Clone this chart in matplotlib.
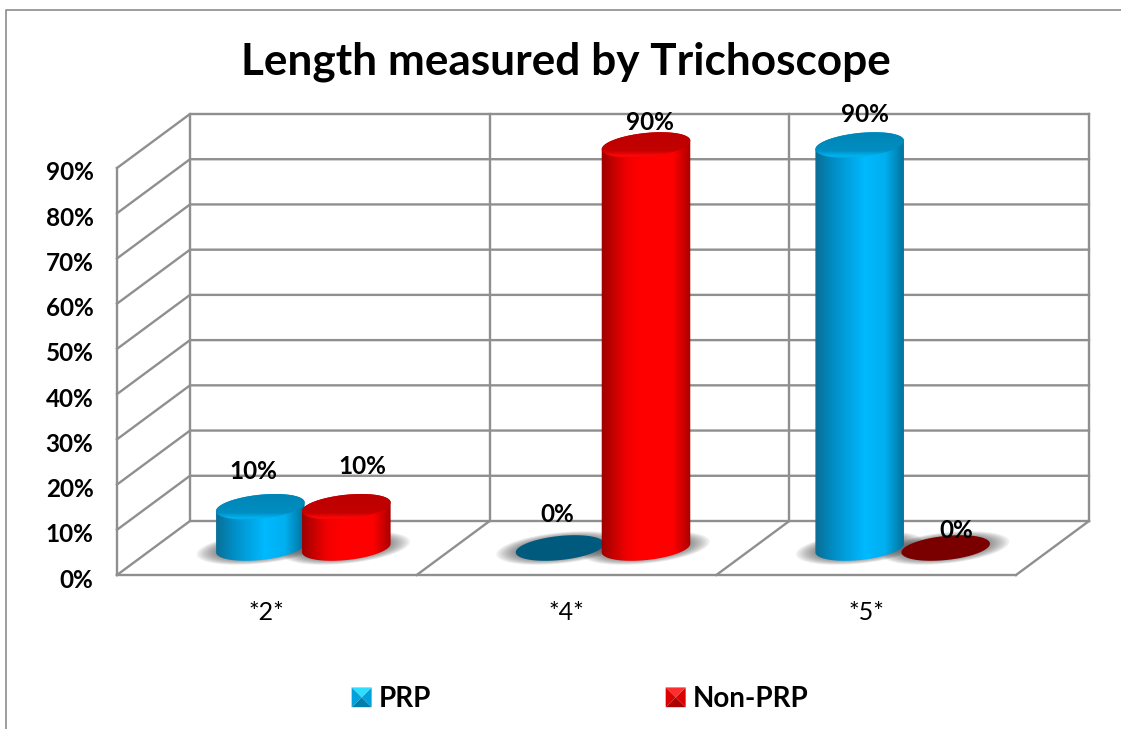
import numpy as np
import matplotlib
matplotlib.use("Agg")
import matplotlib.pyplot as plt
from matplotlib.colors import LinearSegmentedColormap
from matplotlib.legend_handler import HandlerBase
from matplotlib.lines import Line2D
from matplotlib.patches import Patch, Polygon
from matplotlib.transforms import Affine2D

# ---- data ----
categories = ["*2*", "*4*", "*5*"]
series_names = ["PRP", "Non-PRP"]
prp_values = [10, 0, 90]
non_prp_values = [10, 90, 0]
y_ticks = [0, 10, 20, 30, 40, 50, 60, 70, 80, 90]

# ---- style ----
W, H = 1121, 729
FONT = "Lato"
GRID = "#8f8f8f"
L, R, B, T = 117, 1016, 575, 168          # front plane in pixels
PX = 3 / (R - L)
PY = 90 / (B - T)
DX, DY = 73 * PX, 54 * PY                 # oblique depth of the chart floor
BAR_OFF = 43 * PX
A, BB, TILT = 44.5, 12.0, np.deg2rad(6)   # cylinder ellipse in pixels
TOP_SHIFT = -4 * PY
# pixel offsets of each data label from the bar's top centre: (series, category)
LABEL_OFFSETS = {
    (0, 0): (-7, 35), (1, 0): (16, 40),
    (0, 1): (-3, 34), (1, 1): (4, 23),
    (0, 2): (5, 31), (1, 2): (11, 17),
}
STYLE = [
    dict(side=[(0, "#0b6d94"), (0.22, "#0090c8"), (0.55, "#00b9ff"), (0.78, "#00afef"), (1, "#006f99")],
         top=[(0, "#0085b5"), (0.72, "#008ec2"), (0.92, "#00b4f0"), (1, "#00a8e0")], flat="#005a7d"),
    dict(side=[(0, "#9c0000"), (0.28, "#f00000"), (0.45, "#ff0000"), (0.8, "#ff0000"), (1, "#a80000")],
         top=[(0, "#bb0000"), (0.72, "#c40000"), (0.92, "#ff0808"), (1, "#f00000")], flat="#7a0000"),
]

fig = plt.figure(figsize=(W / 100, H / 100), dpi=100, facecolor="white")
ax = fig.add_axes([L / W, 1 - B / H, (R - L) / W, (B - T) / H])
ax.set_xlim(0, 3)
ax.set_ylim(0, 90)
ax.set_facecolor("none")
for s in ("top", "right"):
    ax.spines[s].set_visible(False)
for s in ("left", "bottom"):
    ax.spines[s].set_color(GRID)
    ax.spines[s].set_linewidth(1.7)
ax.set_yticks(y_ticks, [f"{v}%" for v in y_ticks], fontfamily=FONT, fontweight="bold", fontsize=17.5)
ax.set_xticks([0.5, 1.5, 2.5], categories, fontfamily=FONT, fontsize=18)
ax.tick_params(axis="y", length=0, pad=17)
ax.tick_params(axis="x", length=0, pad=19)
for lab in ax.get_yticklabels():
    lab.set_transform(lab.get_transform() + Affine2D().translate(0, -3))

# outer chart frame
fig.add_artist(Line2D([6 / W, 6 / W, 1], [0, 1 - 10 / H, 1 - 10 / H], color="#8c8c8c", lw=1.2))

# walls and floor
kw = dict(color=GRID, lw=1.7, zorder=1, clip_on=False, solid_capstyle="projecting")
for v in y_ticks:
    ax.plot([0, DX, 3 + DX], [v, v + DY, v + DY], **kw)
for i in range(4):
    ax.plot([i + DX, i + DX], [DY, 90 + DY], **kw)
for i in range(1, 4):
    ax.plot([i, i + DX], [0, DY], **kw)


def ellipse(cx, cy, a=A, b=BB, t=None):
    t = np.linspace(0, 2 * np.pi, 121) if t is None else t
    ex = a * np.cos(t) * np.cos(TILT) - b * np.sin(t) * np.sin(TILT)
    ey = a * np.cos(t) * np.sin(TILT) + b * np.sin(t) * np.cos(TILT)
    return np.column_stack([cx + ex * PX, cy + ey * PY])


def gradient(poly, stops, extent, vertical, z):
    cmap = LinearSegmentedColormap.from_list("g", stops)
    ramp = np.linspace(0, 1, 256)
    arr = ramp[:, None] if vertical else ramp[None, :]
    im = ax.imshow(arr, cmap=cmap, extent=extent, aspect="auto", origin="upper",
                   interpolation="bilinear", zorder=z)
    patch = Polygon(poly, closed=True, transform=ax.transData, fc="none", ec="none")
    im.set_clip_path(patch)
    im.set_clip_box(fig.bbox)


def shadow(cx, cy):
    for k in np.linspace(1, 0.62, 12):
        ax.add_patch(Polygon(ellipse(cx, cy, 64 * k, 15.5 * k), closed=True, fc="#404040", ec="none",
                             alpha=0.08, zorder=2, clip_on=False))


def cylinder(cx, value, style, z):
    base = DY / 2
    if value == 0:
        ax.add_patch(Polygon(ellipse(cx, base), closed=True, fc=style["flat"], ec="none", zorder=z))
        return
    top = base + value + TOP_SHIFT
    t0 = np.arctan2(-BB * np.sin(TILT), A * np.cos(TILT))
    arc = np.linspace(t0, t0 + np.pi, 60)        # right extreme -> upper side -> left extreme
    upper = ellipse(cx, top, t=arc)
    lower = ellipse(cx, base, t=arc + np.pi)     # left extreme -> lower side -> right extreme
    body = np.vstack([upper, lower])
    x0, x1 = cx - 45 * PX, cx + 45 * PX
    gradient(body, style["side"], [x0, x1, base - 14 * PY, top + 14 * PY], False, z)
    gradient(ellipse(cx, top), style["top"], [x0, x1, top - 13 * PY, top + 13 * PY], True, z + 0.1)


series = [prp_values, non_prp_values]
for i in range(3):
    for s in range(2):
        cx = i + 0.5 + DX / 2 + (2 * s - 1) * BAR_OFF
        shadow(cx, DY / 2)
for i in range(3):
    for s in range(2):
        cx = i + 0.5 + DX / 2 + (2 * s - 1) * BAR_OFF
        v = series[s][i]
        z = 3 if v == 0 else 4 + s
        cylinder(cx, v, STYLE[s], z)
        ox, oy = LABEL_OFFSETS[(s, i)]
        ax.text(cx + ox * PX, DY / 2 + v + (TOP_SHIFT if v else 0) + oy * PY, f"{v}%",
                ha="center", va="center", fontfamily=FONT, fontweight="bold",
                fontsize=17.5, color="black", zorder=8, clip_on=False)

ax.set_xlim(0, 3)
ax.set_ylim(0, 90)

fig.text(566 / W, 1 - 62 / H, "Length measured by Trichoscope", ha="center", va="center",
         fontfamily=FONT, fontweight="bold", fontsize=31.8, color="black")


class Bevel(HandlerBase):
    def create_artists(self, legend, handle, xd, yd, w, h, fontsize, trans):
        c = np.array(matplotlib.colors.to_rgb(handle.get_facecolor()))
        x0, y0 = -xd, -yd
        m = (x0 + w / 2, y0 + h / 2)
        a, b, d, e = (x0, y0), (x0 + w, y0), (x0 + w, y0 + h), (x0, y0 + h)
        faces = [((a, b, m), c * 0.72), ((b, d, m), c * 0.92), ((d, e, m), np.minimum(c + 0.18, 1)), ((e, a, m), c * 0.92)]
        return [Polygon(p, closed=True, fc=col, ec="none", transform=trans) for p, col in faces]


handles = [Patch(facecolor="#00b0f0"), Patch(facecolor="#f00000")]
fig.legend(handles, series_names, handler_map={Patch: Bevel()}, loc="center",
           bbox_to_anchor=(580 / W, 1 - 699 / H), ncol=2, frameon=False,
           prop=dict(family=FONT, weight="bold", size=20),
           handlelength=0.72, handleheight=0.72, handletextpad=0.25, columnspacing=8.45)

fig.savefig("out.png", dpi=100)
